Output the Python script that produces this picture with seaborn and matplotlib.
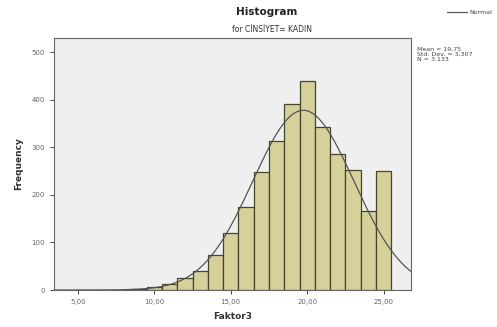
import numpy as np
import pandas as pd
import matplotlib
matplotlib.use("Agg")
import matplotlib.pyplot as plt
import seaborn as sns

# Faktor3 score values and their frequencies (women)
scores = [8, 9, 10, 11, 12, 13, 14, 15, 16, 17, 18, 19, 20, 21, 22, 23, 24, 25]
counts = [1, 3, 6, 13, 26, 40, 74, 120, 175, 249, 313, 391, 440, 343, 286, 253, 167, 250]

# Summary statistics shown beside the chart
mean_val = 19.75
std_val = 3.307
n_val = 3133
x_ticks = [5, 10, 15, 20, 25]
x_tick_labels = ["5,00", "10,00", "15,00", "20,00", "25,00"]
y_ticks = [0, 100, 200, 300, 400, 500]

df = pd.DataFrame({"Faktor3": scores, "count": counts})

sns.set_style("ticks")
plt.rcParams["font.family"] = ["DejaVu Sans"]

fig = plt.figure(figsize=(4.97, 3.27), dpi=100)
ax = fig.add_axes([0.1087, 0.1131, 0.7183, 0.7707])
ax.set_facecolor("#EFEFEF")

sns.histplot(data=df, x="Faktor3", weights="count", discrete=True,
             color="#D6D19A", edgecolor="#45452A", linewidth=0.9,
             alpha=1.0, ax=ax)

# Fitted normal curve scaled to counts per unit-width bin
xs = np.linspace(3.43, 26.8, 400)
ys = n_val * np.exp(-0.5 * ((xs - mean_val) / std_val) ** 2) / (std_val * np.sqrt(2 * np.pi))
ax.plot(xs, ys, color="#555555", linewidth=0.9)

ax.set_xlim(3.43, 26.8)
ax.set_ylim(0, 530)
ax.set_xticks(x_ticks)
ax.set_xticklabels(x_tick_labels)
ax.set_yticks(y_ticks)
ax.tick_params(axis="both", labelsize=5, colors="#444444", length=3, width=0.7,
               labelcolor="#666666")
for s in ax.spines.values():
    s.set_color("#666666")
    s.set_linewidth(0.8)

ax.set_xlabel("Faktor3", fontsize=6.5, fontweight="bold", color="#333333", labelpad=5)
ax.set_ylabel("Frequency", fontsize=6.5, fontweight="bold", color="#333333", labelpad=6)

fig.text(267 / 497, 1 - 12 / 327, "Histogram", ha="center", va="center",
         fontsize=7.5, fontweight="bold", color="#222222")
fig.text(272 / 497, 1 - 30 / 327, "for CİNSİYET= KADIN", ha="center", va="center",
         fontsize=5.5, color="#333333")

# Legend entry at the top right
fig.add_artist(plt.Line2D([447 / 497, 467 / 497], [1 - 12 / 327, 1 - 12 / 327],
                          color="#555555", linewidth=0.9))
fig.text(469 / 497, 1 - 12 / 327, "Normal", ha="left", va="center",
         fontsize=4.5, color="#444444")

stats_text = "Mean = 19,75\nStd. Dev. = 3,307\nN = 3.133"
fig.text(417 / 497, 1 - 47 / 327, stats_text, ha="left", va="top",
         fontsize=4.5, color="#444444", linespacing=1.0)

fig.savefig("out.png", dpi=100)
